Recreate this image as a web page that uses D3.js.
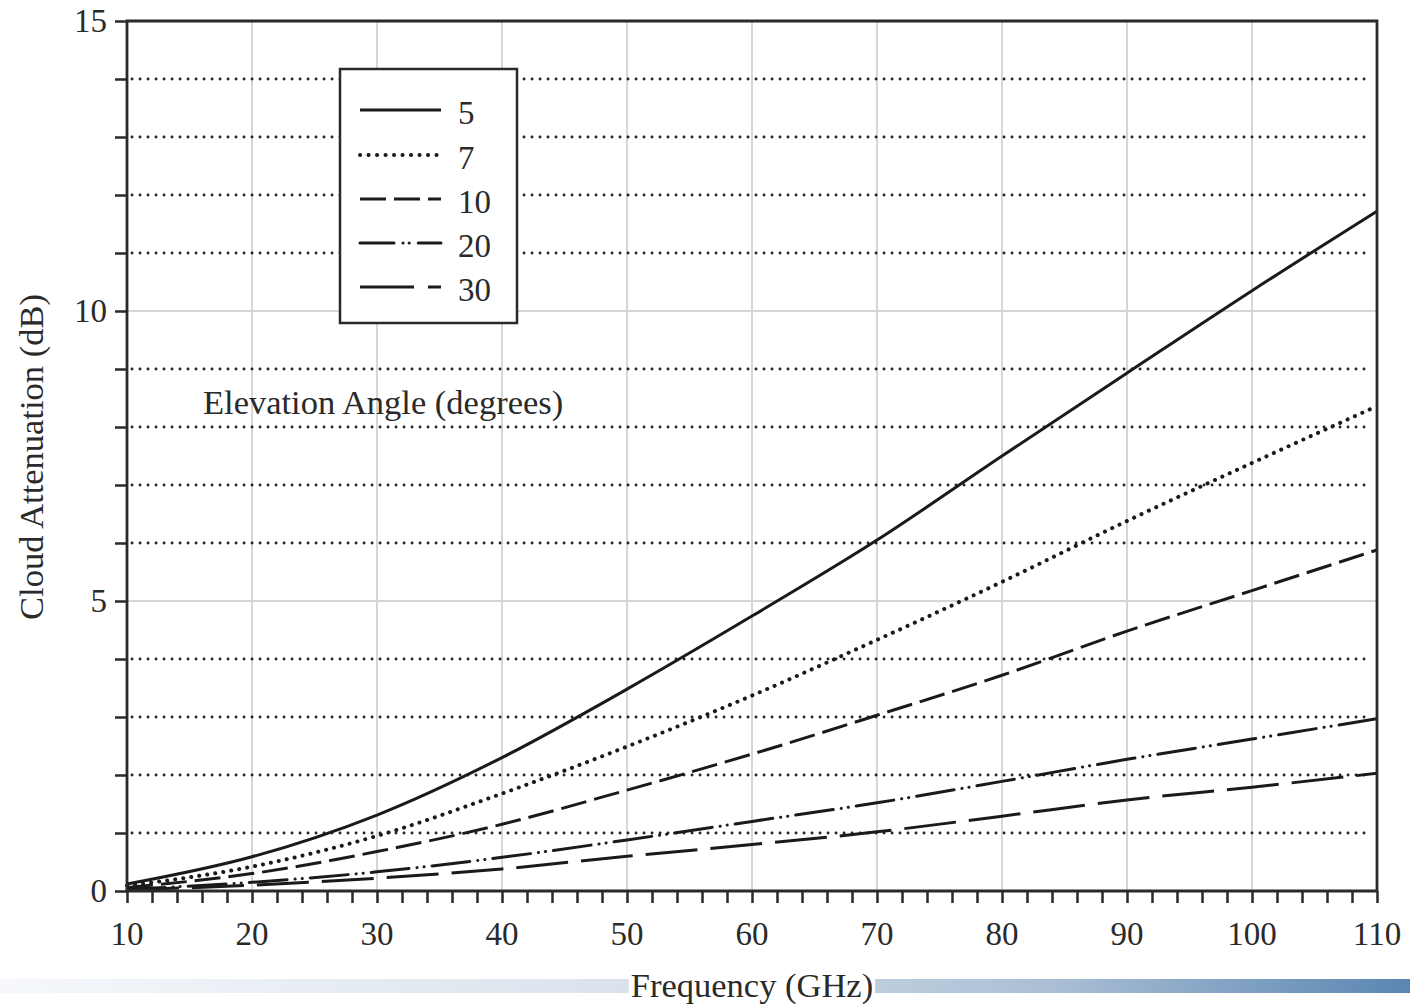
<!DOCTYPE html>
<html><head><meta charset="utf-8">
<script src="https://cdn.jsdelivr.net/npm/d3@7"></script>
<style>
html,body{margin:0;padding:0;background:#fff;}
svg{display:block;}
text{font-family:"Liberation Serif","Times New Roman",serif;fill:#2a2a2a;}
</style></head>
<body><svg id="c" width="1410" height="1005"></svg>
<script>
// Data
const freqs = [10, 20, 30, 40, 50, 60, 70, 80, 90, 100, 110];
const elev5  = [0.12, 0.59, 1.31, 2.30, 3.48, 4.74, 6.05, 7.50, 8.93, 10.35, 11.72];
const elev7  = [0.09, 0.42, 0.95, 1.68, 2.49, 3.37, 4.33, 5.33, 6.38, 7.38, 8.36];
const elev10 = [0.06, 0.30, 0.68, 1.15, 1.74, 2.36, 3.03, 3.72, 4.48, 5.18, 5.88];
const elev20 = [0.03, 0.15, 0.33, 0.58, 0.88, 1.20, 1.52, 1.89, 2.27, 2.62, 2.97];
const elev30 = [0.02, 0.10, 0.22, 0.38, 0.60, 0.80, 1.02, 1.29, 1.57, 1.79, 2.03];
const seriesNames = ["5", "7", "10", "20", "30"];
const xTickLabels = [10, 20, 30, 40, 50, 60, 70, 80, 90, 100, 110];
const yTickLabels = [0, 5, 10, 15];

const allSeries = [elev5, elev7, elev10, elev20, elev30];
const dashes = [null, "0.1,8", "26,8", "38,8,0.1,7,0.1,8", "52,13"];

const svg = d3.select("#c");
const L = 127, R = 1377, T = 21, B = 891;
const x = d3.scaleLinear().domain([10, 110]).range([L, R]);
const y = d3.scaleLinear().domain([0, 15]).range([B, T]);
const FS = 33, FT = 34.5;

// bottom gradient band
const defs = svg.append("defs");
const grad = defs.append("linearGradient").attr("id", "band");
grad.append("stop").attr("offset", "0%").attr("stop-color", "#f6f8fb");
grad.append("stop").attr("offset", "45%").attr("stop-color", "#d9e2ec");
grad.append("stop").attr("offset", "75%").attr("stop-color", "#a9bed4");
grad.append("stop").attr("offset", "100%").attr("stop-color", "#5a86b2");
svg.append("rect").attr("x", 0).attr("y", 979).attr("width", 1410).attr("height", 14).attr("fill", "url(#band)");

// vertical grid
svg.append("g").selectAll("line").data(d3.range(20, 110, 10)).join("line")
  .attr("x1", d => x(d)).attr("x2", d => x(d)).attr("y1", T).attr("y2", B)
  .attr("stroke", "#d6d6d6").attr("stroke-width", 2);

// horizontal grid: major solid, minor dotted
svg.append("g").selectAll("line").data([5, 10]).join("line")
  .attr("x1", L).attr("x2", R).attr("y1", d => y(d)).attr("y2", d => y(d))
  .attr("stroke", "#d6d6d6").attr("stroke-width", 2);
svg.append("g").selectAll("line").data(d3.range(1, 15).filter(v => v % 5 !== 0)).join("line")
  .attr("x1", L + 5).attr("x2", R - 5).attr("y1", d => y(d)).attr("y2", d => y(d))
  .attr("stroke", "#222").attr("stroke-width", 2.8)
  .attr("stroke-dasharray", "0.1,7.9").attr("stroke-linecap", "round");

// curves
const line = d3.line().x((d, i) => x(freqs[i])).y(d => y(d)).curve(d3.curveMonotoneX);
svg.append("g").selectAll("path").data(allSeries).join("path")
  .attr("d", d => line(d))
  .attr("fill", "none").attr("stroke", "#1a1a1a")
  .attr("stroke-width", (d, i) => i === 1 ? 4 : 3)
  .attr("stroke-linecap", (d, i) => (i === 1 || i === 3) ? "round" : "butt")
  .attr("stroke-dasharray", (d, i) => dashes[i]);

// axes
const ax = svg.append("g").attr("transform", `translate(0,${B})`)
  .call(d3.axisBottom(x).tickValues(d3.range(10, 111, 2)).tickSize(12).tickFormat(""));
ax.select(".domain").remove();
ax.selectAll("line").attr("stroke", "#2a2a2a").attr("stroke-width", 2.5);
svg.append("g").selectAll("text").data(xTickLabels).join("text")
  .attr("x", d => x(d)).attr("y", 945).attr("text-anchor", "middle")
  .attr("font-size", FS).text(d => d);

const ay = svg.append("g").attr("transform", `translate(${L},0)`)
  .call(d3.axisLeft(y).tickValues(d3.range(0, 16, 1)).tickSize(12).tickFormat(""));
ay.select(".domain").remove();
ay.selectAll("line").attr("stroke", "#2a2a2a").attr("stroke-width", 2.5);
svg.append("g").selectAll("text").data(yTickLabels).join("text")
  .attr("x", 107).attr("y", d => y(d) + 11).attr("text-anchor", "end")
  .attr("font-size", FS).text(d => d);

// frame
svg.append("path")
  .attr("d", `M${L},${B}L${L},${T}L${R},${T}L${R},${B}Z`)
  .attr("fill", "none").attr("stroke", "#2a2a2a").attr("stroke-width", 2.8);

// axis titles
svg.append("text").attr("transform", "translate(43,457) rotate(-90)")
  .attr("text-anchor", "middle").attr("font-size", FT).text("Cloud Attenuation (dB)");
const xtG = svg.append("g");
const xbg = xtG.append("rect").attr("fill", "#fff");
const xt = xtG.append("text").attr("x", 752).attr("y", 997)
  .attr("text-anchor", "middle").attr("font-size", FT).text("Frequency (GHz)");
const bb = xt.node().getBBox();
xbg.attr("x", bb.x - 2).attr("y", 978).attr("width", bb.width + 4).attr("height", 16);

svg.append("text").attr("x", 203).attr("y", 414).attr("font-size", FT).text("Elevation Angle (degrees)");

// legend
const lg = svg.append("g");
lg.append("rect").attr("x", 340).attr("y", 69).attr("width", 177).attr("height", 254)
  .attr("fill", "#fff").attr("stroke", "#2a2a2a").attr("stroke-width", 2.5);
const ly = [110, 155, 199, 243, 287];
const legDash = [null, "0.1,8.4", "26,8", "34,9,0.1,6,0.1,9", "54,14,16,0"];
lg.selectAll("line").data(seriesNames).join("line")
  .attr("x1", 360).attr("x2", (d, i) => i === 1 ? 437 : 441)
  .attr("y1", (d, i) => ly[i]).attr("y2", (d, i) => ly[i])
  .attr("stroke", "#1a1a1a").attr("stroke-width", (d, i) => i === 1 ? 4 : 3)
  .attr("stroke-linecap", (d, i) => (i === 1 || i === 3) ? "round" : "butt")
  .attr("stroke-dasharray", (d, i) => legDash[i]);
lg.selectAll("text").data(seriesNames).join("text")
  .attr("x", 458).attr("y", (d, i) => ly[i] + 14).attr("font-size", FS).text(d => d);
</script></body></html>
